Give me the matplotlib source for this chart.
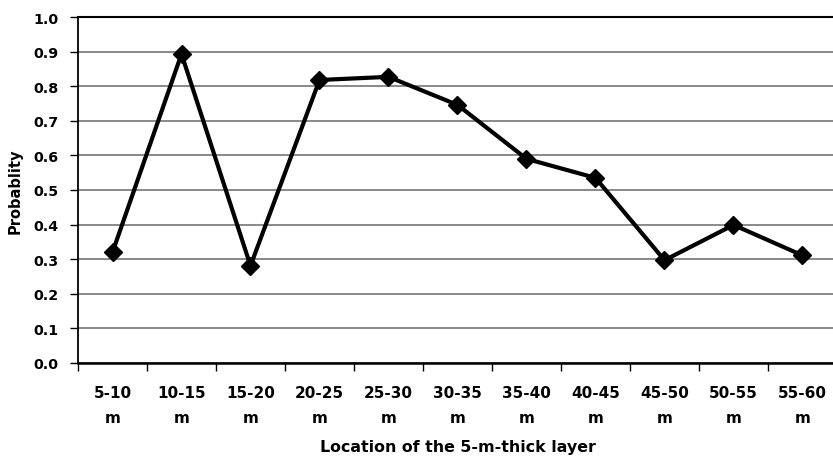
import matplotlib.pyplot as plt
import numpy as np

categories = ["5-10\nm", "10-15\nm", "15-20\nm", "20-25\nm", "25-30\nm", "30-35\nm",
              "35-40\nm", "40-45\nm", "45-50\nm", "50-55\nm", "55-60\nm"]
probability = [0.32, 0.893, 0.281, 0.818, 0.827, 0.746, 0.590, 0.535, 0.297, 0.399, 0.311]
y_ticks = [0.0, 0.1, 0.2, 0.3, 0.4, 0.5, 0.6, 0.7, 0.8, 0.9, 1.0]

plt.rcParams['font.family'] = ['DejaVu Sans']
plt.rcParams['font.weight'] = 'bold'

W, H = 833, 460
fig = plt.figure(figsize=(W / 100, H / 100), dpi=100)
left, right, top, bottom = 78, 837, 18, 364
ax = fig.add_axes([left / W, 1 - bottom / H, (right - left) / W, (bottom - top) / H])

x = np.arange(len(categories))
ax.plot(x, probability, color='black', lw=3, marker='D', markersize=9.5,
        markerfacecolor='black', markeredgecolor='black', zorder=3, clip_on=False)

ax.set_xlim(-0.5, len(categories) - 0.5)
ax.set_ylim(0, 1.0)
ax.set_yticks(y_ticks)
ax.set_yticklabels([f"{v:.1f}" for v in y_ticks], fontsize=10.3, fontweight='bold')
ax.yaxis.grid(True, color='#808080', lw=1.3)
ax.set_axisbelow(True)

ax.set_xticks(x)
ax.set_xticklabels(categories, fontsize=11, fontweight='bold', linespacing=1.85)
ax.set_xticks(np.arange(len(categories) + 1) - 0.5, minor=True)
ax.tick_params(axis='x', which='major', length=0, pad=16)
ax.tick_params(axis='x', which='minor', length=6, width=1, direction='out')
ax.tick_params(axis='y', length=6, width=1, direction='out', pad=8)

ax.spines['right'].set_visible(False)
ax.spines['top'].set_linewidth(1.5)
ax.spines['left'].set_linewidth(1.3)
ax.spines['bottom'].set_linewidth(1.8)

ax.set_ylabel("Probablity", fontsize=10.5, fontweight='bold', labelpad=8)
ax.set_xlabel("Location of the 5-m-thick layer", fontsize=11.4, fontweight='bold', labelpad=10)

fig.savefig("out.png", dpi=100)
